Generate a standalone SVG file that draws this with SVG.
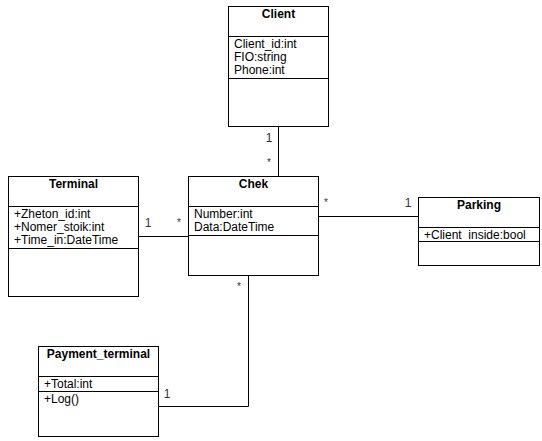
<svg xmlns="http://www.w3.org/2000/svg" width="542" height="441" viewBox="0 0 542 441">
<style>
.box{fill:#fff;stroke:#000;stroke-width:1}
.div{stroke:#000;stroke-width:1}
.t{font-family:"Liberation Sans",Arial,sans-serif;font-size:12px;font-weight:bold;fill:#000;text-anchor:middle}
.a{font-family:"Liberation Sans",Arial,sans-serif;font-size:12px;fill:#000}
.m{font-family:"Liberation Sans",Arial,sans-serif;font-size:12px;fill:#333;text-anchor:middle}
.s{font-family:"Liberation Sans",Arial,sans-serif;font-size:10px;fill:#333;text-anchor:middle}
.c{fill:none;stroke:#000;stroke-width:1}
</style>
<rect width="542" height="441" fill="#fff"/>
<g id="connectors">
<line class="c" x1="278.5" y1="126" x2="278.5" y2="176"/>
<line class="c" x1="138" y1="236.5" x2="188" y2="236.5"/>
<line class="c" x1="318" y1="216.5" x2="418" y2="216.5"/>
<polyline class="c" points="248.5,276 248.5,406.5 158,406.5"/>
<text class="m" x="269" y="141.5">1</text>
<text class="s" x="269" y="166">*</text>
<text class="m" x="148" y="227">1</text>
<text class="s" x="179" y="226">*</text>
<text class="s" x="326" y="206">*</text>
<text class="m" x="408" y="206.5">1</text>
<text class="s" x="239" y="290">*</text>
<text class="m" x="167" y="397.5">1</text>
</g>
<g id="client">
<rect class="box" x="228.5" y="6.5" width="100" height="120"/>
<line class="div" x1="228.5" y1="36.5" x2="328.5" y2="36.5"/>
<line class="div" x1="228.5" y1="78.5" x2="328.5" y2="78.5"/>
<text class="t" x="278.5" y="18">Client</text>
<text class="a" x="234" y="47.5">Client_id:int</text>
<text class="a" x="234" y="61">FIO:string</text>
<text class="a" x="234" y="74">Phone:int</text>
</g>
<g id="terminal">
<rect class="box" x="8.5" y="176.5" width="130" height="120"/>
<line class="div" x1="8.5" y1="206.5" x2="138.5" y2="206.5"/>
<line class="div" x1="8.5" y1="248.5" x2="138.5" y2="248.5"/>
<text class="t" x="73.5" y="188">Terminal</text>
<text class="a" x="14" y="217.5">+Zheton_id:int</text>
<text class="a" x="14" y="230.5">+Nomer_stoik:int</text>
<text class="a" x="14" y="244">+Time_in:DateTime</text>
</g>
<g id="chek">
<rect class="box" x="188.5" y="176.5" width="130" height="99"/>
<line class="div" x1="188.5" y1="206.5" x2="318.5" y2="206.5"/>
<line class="div" x1="188.5" y1="235.5" x2="318.5" y2="235.5"/>
<text class="t" x="253.5" y="188">Chek</text>
<text class="a" x="194" y="217.5">Number:int</text>
<text class="a" x="194" y="231">Data:DateTime</text>
</g>
<g id="parking">
<rect class="box" x="418.5" y="197.5" width="121" height="68"/>
<line class="div" x1="418.5" y1="227.5" x2="539.5" y2="227.5"/>
<line class="div" x1="418.5" y1="241.5" x2="539.5" y2="241.5"/>
<text class="t" x="479" y="209">Parking</text>
<text class="a" x="424" y="238.5">+Client_inside:bool</text>
</g>
<g id="payment_terminal">
<rect class="box" x="38.5" y="346.5" width="120" height="90"/>
<line class="div" x1="38.5" y1="376.5" x2="158.5" y2="376.5"/>
<line class="div" x1="38.5" y1="391.5" x2="158.5" y2="391.5"/>
<text class="t" x="98.5" y="358">Payment_terminal</text>
<text class="a" x="44" y="387.5">+Total:int</text>
<text class="a" x="44" y="402.5">+Log()</text>
</g>
</svg>
